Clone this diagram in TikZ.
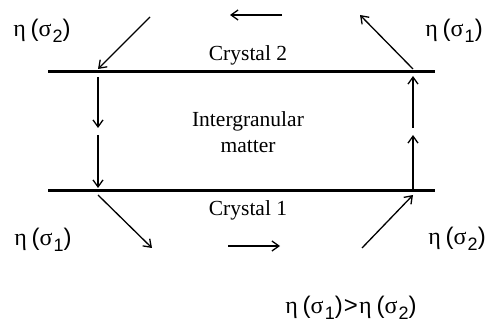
\documentclass[tikz,border=0pt]{standalone}
\usepackage{fontspec}
\setmainfont{Liberation Serif}
\newfontfamily\labsans{Liberation Sans}
\newfontfamily\labgreek{Liberation Serif}
\usetikzlibrary{arrows.meta}
\newcommand{\etasig}[1]{{\labgreek η}\hspace{0.2em}{\labsans (}{\labgreek σ}\hspace{0.05em}\raisebox{-0.5ex}{\labsans\fontsize{18}{20}\selectfont #1}{\labsans )}}
\tikzset{
  crys/.style={line width=3pt},
  flow/.style={line width=1.3pt,-{Straight Barb[length=7pt,width=10pt,line width=1.3pt]}},
  lab/.style={font=\fontsize{24}{28}\selectfont,inner sep=0pt},
  txt/.style={font=\fontsize{21.5}{26}\selectfont,inner sep=0pt,align=center}
}
\begin{document}
\begin{tikzpicture}[x=1pt,y=-1pt]
\useasboundingbox (0,0) rectangle (490,323);
% crystal lines
\coordinate (c2l) at (48,72); \coordinate (c2r) at (435,72);
\coordinate (c1l) at (48,191); \coordinate (c1r) at (435,191);
\draw[crys] (c2l) -- (c2r);
\draw[crys] (c1l) -- (c1r);
% coordinates
\coordinate (a1) at (150,17); \coordinate (a2) at (98,69);
\coordinate (b1) at (282,15); \coordinate (b2) at (230,15);
\coordinate (d1) at (413,69); \coordinate (d2) at (360,15);
\coordinate (l1) at (98,77); \coordinate (l2) at (98,128);
\coordinate (l3) at (98,135); \coordinate (l4) at (98,188);
\coordinate (r1) at (413,189); \coordinate (r2) at (413,135);
\coordinate (r3) at (413,128); \coordinate (r4) at (413,76);
\coordinate (e1) at (98,195); \coordinate (e2) at (152,248);
\coordinate (f1) at (228,246); \coordinate (f2) at (280,246);
\coordinate (g1) at (362,248); \coordinate (g2) at (413,195);
\draw[flow] (a1) -- (a2);
\draw[flow] (b1) -- (b2);
\draw[flow] (d1) -- (d2);
\draw[flow] (l1) -- (l2);
\draw[flow] (l3) -- (l4);
\draw[flow] (r1) -- (r2);
\draw[flow] (r3) -- (r4);
\draw[flow] (e1) -- (e2);
\draw[flow] (f1) -- (f2);
\draw[flow] (g1) -- (g2);
% texts
\node[txt] (cr2) at (248,55) {Crystal 2};
\node[txt] (cr1) at (248,210) {Crystal 1};
\node[txt] (igm) at (248,132) {Intergranular\\matter};
\node[lab] (tl) at (42,31) {\etasig{2}};
\node[lab] (tr) at (454,31) {\etasig{1}};
\node[lab] (bl) at (43,240) {\etasig{1}};
\node[lab] (br) at (457,239) {\etasig{2}};
\node[lab] (ineq) at (351,308) {\etasig{1}\hspace{0.05em}{\labsans >}\hspace{0.05em}\etasig{2}};
\end{tikzpicture}
\end{document}
